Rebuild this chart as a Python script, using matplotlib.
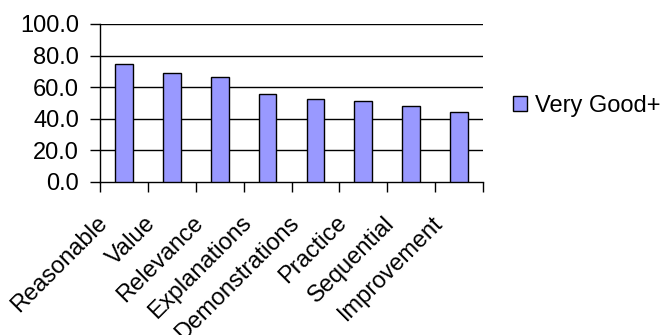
import numpy as np
import matplotlib
matplotlib.use("Agg")
import matplotlib.pyplot as plt
import matplotlib.transforms as mtransforms

plt.rcParams['font.family'] = ['Liberation Sans', 'DejaVu Sans']

categories = ["Reasonable", "Value", "Relevance", "Explanations",
              "Demonstrations", "Practice", "Sequential", "Improvement"]
very_good = [74.5, 68.9, 66.3, 55.8, 52.4, 51.4, 47.8, 44.2]
yticks = [0, 20, 40, 60, 80, 100]

fs = 17
fig = plt.figure(figsize=(6.64, 3.35), dpi=100)
ax = fig.add_axes([100/664, 1-182/335, 383/664, 158/335])

x = np.arange(len(categories))
ax.bar(x, very_good, width=0.37, color="#9999FF", edgecolor="black",
       linewidth=1, label="Very Good+", zorder=3)

ax.set_xlim(-0.5, len(categories) - 0.5)
ax.set_ylim(0, 100)

# gridlines at every major y tick
for v in yticks[1:]:
    ax.axhline(v, color="black", lw=1, zorder=1)

ax.spines["top"].set_visible(False)
ax.spines["right"].set_visible(False)
ax.spines["left"].set_linewidth(1)
ax.spines["bottom"].set_linewidth(1)

ax.set_yticks(yticks)
ax.set_yticklabels([f"{v:.1f}" for v in yticks], fontsize=fs)
ax.tick_params(axis="y", direction="out", length=7, width=1, pad=8)

# category ticks sit between bars, labels at bar centres
ax.set_xticks(np.arange(-0.5, len(categories)), minor=True)
ax.tick_params(axis="x", which="minor", direction="out", length=7, width=1)
ax.set_xticks(x)
ax.set_xticklabels(categories, fontsize=fs, rotation=45, ha="right", va="top")
ax.tick_params(axis="x", which="major", length=0, pad=0)
offset = mtransforms.ScaledTranslation(-12/100, -30/100, fig.dpi_scale_trans)
for lbl in ax.get_xticklabels():
    lbl.set_transform(lbl.get_transform() + offset)

fig.legend(loc="center left", bbox_to_anchor=(513/664, 1-106/335),
           frameon=False, fontsize=fs, handlelength=0.6, handleheight=0.6,
           handletextpad=0.35, borderpad=0, borderaxespad=0)

fig.savefig("out.png", dpi=100)
